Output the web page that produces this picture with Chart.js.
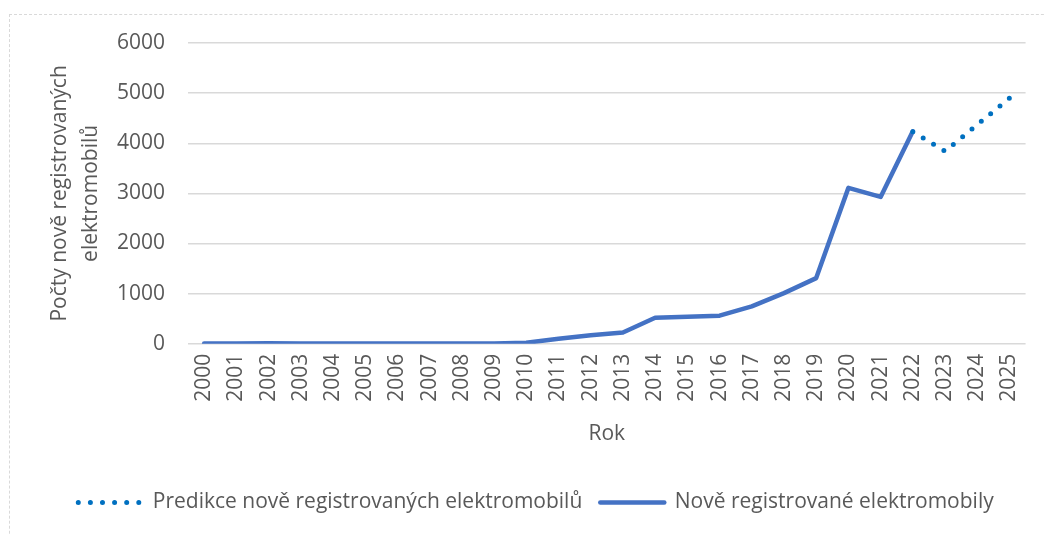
<!DOCTYPE html>
<html>
<head>
<meta charset="utf-8">
<script src="https://cdn.jsdelivr.net/npm/chart.js@4.4.1/dist/chart.umd.min.js"></script>
<style>
  html, body { margin: 0; padding: 0; background: #fff; overflow: hidden; }
  #frame {
    position: absolute; left: 9px; top: 14px; width: 1100px; height: 600px;
    border: 1px dashed #D9D9D9; box-sizing: border-box;
  }
  #wrap { position: absolute; left: 0; top: 0; width: 1045px; height: 534px; }
</style>
</head>
<body>
<div id="frame"></div>
<div id="wrap"><canvas id="chart"></canvas></div>
<script>
// Years on the x axis
const years = ['2000', '2001', '2002', '2003', '2004', '2005', '2006', '2007', '2008', '2009',
  '2010', '2011', '2012', '2013', '2014', '2015', '2016', '2017', '2018', '2019',
  '2020', '2021', '2022', '2023', '2024', '2025'];

// Registered EVs
const registered = [5, 3, 10, 5, 5, 5, 5, 5, 3, 5,
  20, 100, 170, 225, 520, 540, 560, 745, 1010, 1310,
  3110, 2930, 4240, null, null, null];

// Prediction, starts at 2022
const prediction = [null, null, null, null, null, null, null, null, null, null,
  null, null, null, null, null, null, null, null, null, null,
  null, null, 4230, 3840, 4370, 4900];

const yTicks = [0, 1000, 2000, 3000, 4000, 5000, 6000];

const textColor = '#595959';
const fontFamily = '"Open Sans", sans-serif';
const fontSize = 21;

new Chart(document.getElementById('chart'), {
  type: 'line',
  data: {
    labels: years,
    datasets: [
      {
        label: 'Predikce nově registrovaných elektromobilů',
        data: prediction,
        borderColor: '#0070C0',
        backgroundColor: '#0070C0',
        borderWidth: 5,
        borderDash: [0, 12.1],
        borderCapStyle: 'round',
        pointRadius: 0,
        pointStyle: 'line',
        tension: 0
      },
      {
        label: 'Nově registrované elektromobily',
        data: registered,
        borderColor: '#4472C4',
        backgroundColor: '#4472C4',
        borderWidth: 4.5,
        borderCapStyle: 'round',
        borderJoinStyle: 'round',
        pointRadius: 0,
        pointStyle: 'line',
        tension: 0
      }
    ]
  },
  options: {
    responsive: true,
    maintainAspectRatio: false,
    animation: false,
    layout: { padding: { left: 44, right: 17, top: 43, bottom: 11 } },
    scales: {
      x: {
        offset: true,
        grid: { display: false, drawTicks: false },
        border: { display: false },
        ticks: {
          color: textColor,
          font: { family: fontFamily, size: fontSize },
          minRotation: 90,
          maxRotation: 90,
          padding: 10,
          autoSkip: false
        },
        title: {
          display: true,
          text: 'Rok',
          color: textColor,
          font: { family: fontFamily, size: fontSize },
          padding: { top: 10, bottom: 27 }
        }
      },
      y: {
        min: 0,
        max: 6000,
        afterBuildTicks: axis => { axis.ticks = yTicks.map(v => ({ value: v })); },
        grid: { color: '#D9D9D9', lineWidth: 1.5, drawTicks: false },
        border: { display: false },
        ticks: {
          color: textColor,
          font: { family: fontFamily, size: fontSize },
          padding: 23,
          callback: v => String(v)
        },
        title: {
          display: true,
          text: ['Počty nově registrovaných', 'elektromobilů'],
          color: textColor,
          font: { family: fontFamily, size: fontSize, lineHeight: 1.5 },
          padding: { top: 0, bottom: -13 }
        }
      }
    },
    plugins: {
      legend: {
        position: 'bottom',
        labels: {
          usePointStyle: true,
          pointStyleWidth: 64,
          color: textColor,
          font: { family: fontFamily, size: fontSize },
          padding: 18,
          generateLabels: chart => {
            const items = Chart.defaults.plugins.legend.labels.generateLabels(chart);
            items.forEach(item => {
              const ds = chart.data.datasets[item.datasetIndex];
              item.lineDash = ds.borderDash || [];
              item.lineCap = ds.borderCapStyle || 'butt';
              item.lineWidth = ds.borderWidth;
              item.strokeStyle = ds.borderColor;
            });
            return items;
          }
        }
      },
      tooltip: { enabled: false }
    }
  }
});
</script>
</body>
</html>
